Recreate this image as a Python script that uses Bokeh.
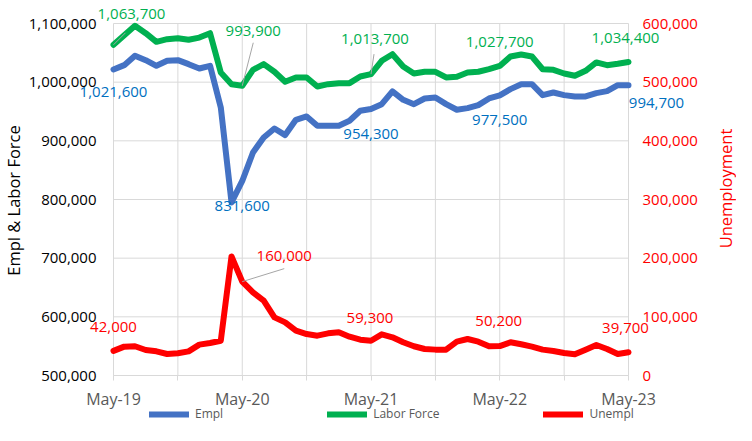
import math
from bokeh.plotting import figure
from bokeh.models import (Range1d, LinearAxis, FixedTicker, LabelSet, Label,
                          NumeralTickFormatter, Legend, LegendItem, ColumnDataSource)
from bokeh.core.properties import value
from bokeh.embed import file_html
from bokeh.resources import INLINE

# ---------------- data (monthly, May-19 .. May-23) ----------------
months = list(range(49))
tick_idx = [0, 12, 24, 36, 48]
minor_idx = [6, 18, 30, 42]
tick_labels = ["May-19", "May-20", "May-21", "May-22", "May-23"]
left_ticks = [500000, 600000, 700000, 800000, 900000, 1000000, 1100000]
right_ticks = [0, 100000, 200000, 300000, 400000, 500000, 600000]

empl = [1021600, 1029000, 1045000, 1037500, 1027900, 1036400, 1037500, 1030700, 1023300, 1027900,
        956900, 795000, 831600, 880200, 905800, 921100, 909800, 935900, 941600, 925700,
        925700, 925700, 934200, 951200, 954300, 962500, 984200, 970000, 962500, 972200,
        973900, 962500, 953000, 955700, 960800, 972200, 977500, 988100, 996600, 996600,
        977900, 982400, 977900, 975600, 975600, 981300, 984700, 994900, 994700]

labor_force = [1063700, 1080000, 1096000, 1083500, 1068800, 1073300, 1075000, 1072200, 1076000, 1083500,
               1016500, 996600, 993900, 1021000, 1030700, 1017700, 1000600, 1008000, 1008000, 992700,
               996600, 998300, 998300, 1009700, 1013700, 1036400, 1047700, 1026700, 1014800, 1017700,
               1017700, 1008000, 1009200, 1016500, 1017700, 1022100, 1027700, 1043800, 1047200, 1043800,
               1022100, 1021000, 1014800, 1010900, 1019400, 1033600, 1029000, 1031300, 1034400]

unempl = [42000, 49200, 49800, 43400, 41200, 36600, 37800, 41200, 52600, 55400,
          59300, 203000, 160000, 141700, 127600, 99100, 90600, 76500, 70700, 67900,
          71900, 73600, 66200, 61100, 59300, 70200, 65100, 56600, 49800, 45200,
          44100, 44100, 57700, 62200, 57700, 49800, 50200, 56600, 53200, 49200,
          44100, 41800, 38300, 36100, 44100, 51900, 45200, 36600, 39700]

label_idx = [0, 12, 24, 36, 48]

# ---------------- styles / geometry ----------------
FONT = "Open Sans"
BLUE, BLUE_TXT = "#4472C4", "#0070C0"
GREEN = "#00B050"
RED = "#FF0000"
GRID = "#D9D9D9"
LEADER = "#A6A6A6"

FRAME_W, FRAME_H = 736, 423        # whole canvas is the frame; axes drawn at fixed locations
PLOT_W, PLOT_H = 515, 352          # visible plot area (May-19..May-23, 500k..1.1M)
PLOT_L, PLOT_T = 113, 23           # where that area sits inside the canvas
PLOT_R_PAD = FRAME_W - PLOT_L - PLOT_W
PLOT_B_PAD = FRAME_H - PLOT_T - PLOT_H
ux = 48 / PLOT_W
uy = 600000 / PLOT_H
x_lo, x_hi = 0, 48
yl_lo, yl_hi = 500000, 1100000
yr_lo, yr_hi = 0, 600000

p = figure(frame_width=FRAME_W, frame_height=FRAME_H,
           x_range=Range1d(x_lo - PLOT_L * ux, x_hi + PLOT_R_PAD * ux),
           y_range=Range1d(yl_lo - PLOT_B_PAD * uy, yl_hi + PLOT_T * uy),
           output_backend="svg", toolbar_location=None, title=None,
           min_border_left=0, min_border_right=0, min_border_top=0, min_border_bottom=0)
p.extra_y_ranges = {"right": Range1d(yr_lo - PLOT_B_PAD * uy, yr_hi + PLOT_T * uy)}
p.outline_line_color = None
p.background_fill_color = "white"
p.xgrid.visible = False
p.ygrid.visible = False

# grid lines limited to the plot area, at the tick positions
vx = sorted(tick_idx + minor_idx)
p.segment(x0=vx, y0=[yl_lo] * len(vx), x1=vx, y1=[yl_hi] * len(vx),
          line_color=GRID, line_width=1, level="underlay")
p.segment(x0=[x_lo] * len(left_ticks), y0=left_ticks, x1=[x_hi] * len(left_ticks), y1=left_ticks,
          line_color=GRID, line_width=1, level="underlay")

# x axis (drawn at 500,000)
xax = p.xaxis[0]
xax.fixed_location = yl_lo
xax.bounds = (x_lo, x_hi)
xax.ticker = FixedTicker(ticks=tick_idx, minor_ticks=minor_idx)
xax.major_label_overrides = {i: t for i, t in zip(tick_idx, tick_labels)}
xax.axis_line_color = GRID
xax.major_tick_line_color = GRID
xax.minor_tick_line_color = GRID
xax.major_tick_in = 0
xax.major_tick_out = 5
xax.minor_tick_in = 0
xax.minor_tick_out = 5
xax.major_label_text_font = FONT
xax.major_label_text_font_size = "16px"
xax.major_label_text_color = "#595959"
xax.major_label_standoff = 7

# left axis (drawn at May-19)
yax = p.yaxis[0]
yax.fixed_location = x_lo
yax.bounds = (yl_lo, yl_hi)
yax.ticker = FixedTicker(ticks=left_ticks)
yax.formatter = NumeralTickFormatter(format="0,0")
yax.axis_line_color = None
yax.major_tick_line_color = None
yax.minor_tick_line_color = None
yax.major_tick_in = 0
yax.major_tick_out = 0
yax.minor_tick_out = 0
yax.major_label_text_font = FONT
yax.major_label_text_font_size = "15px"
yax.major_label_text_color = "black"
yax.major_label_standoff = 17

# right axis (drawn at May-23)
rax = LinearAxis(y_range_name="right", ticker=FixedTicker(ticks=right_ticks),
                 formatter=NumeralTickFormatter(format="0,0"), bounds=(yr_lo, yr_hi),
                 fixed_location=x_hi)
rax.axis_line_color = None
rax.major_tick_line_color = None
rax.minor_tick_line_color = None
rax.major_tick_in = 0
rax.major_tick_out = 0
rax.minor_tick_out = 0
rax.major_label_text_font = FONT
rax.major_label_text_font_size = "15px"
rax.major_label_text_color = RED
rax.major_label_standoff = 14
p.add_layout(rax, "right")

# axis titles
p.add_layout(Label(x=x_lo - 100 * ux, y=yl_hi - 177 * uy, text="Empl & Labor Force",
                   angle=math.pi / 2, text_align="center", text_baseline="middle",
                   text_color="black", text_font=FONT, text_font_size="16.5px"))
p.add_layout(Label(x=x_hi + 97 * ux, y=yl_hi - 165 * uy, text="Unemployment",
                   angle=math.pi / 2, text_align="center", text_baseline="middle",
                   text_color=RED, text_font=FONT, text_font_size="16.5px"))

# lines
r_e = p.line(months, empl, line_color=BLUE, line_width=6, line_join="round", line_cap="round")
r_l = p.line(months, labor_force, line_color=GREEN, line_width=6, line_join="round", line_cap="round")
r_u = p.line(months, unempl, line_color=RED, line_width=6, line_join="round", line_cap="round",
             y_range_name="right")

# data labels (offsets in screen px; +x right, +y down as listed)
def add_labels(series, color, offs, yr="default", leaders=None):
    xs = label_idx
    ys = [series[i] for i in xs]
    src = ColumnDataSource(dict(x=xs, y=ys, t=[f"{v:,}" for v in ys],
                                dx=[o[0] for o in offs], dy=[-o[1] for o in offs]))
    p.add_layout(LabelSet(x="x", y="y", text="t", x_offset="dx", y_offset="dy", source=src,
                          text_color=color, text_font=value(FONT), text_font_size="15px",
                          text_align="center", text_baseline="middle", y_range_name=yr))
    if leaders:
        x0, y0, x1, y1 = [], [], [], []
        for i, (ldx, ldy) in leaders.items():
            x0.append(i); y0.append(series[i])
            x1.append(i + ldx * ux); y1.append(series[i] - ldy * uy)
        p.segment(x0=x0, y0=y0, x1=x1, y1=y1, line_color=LEADER, line_width=1, y_range_name=yr)

add_labels(empl, BLUE_TXT, [(0, 23), (0, 25), (0, 25), (0, 25), (28, 18)])
add_labels(labor_force, GREEN, [(18, -31), (11, -55), (4, -35), (0, -24), (-3, -24)],
           leaders={0: (12, -12), 12: (11, -43), 24: (3, -20)})
add_labels(unempl, RED, [(0, -24), (42, -26), (-1, -23), (-1, -25), (-3, -24)], yr="right",
           leaders={12: (42, -13)})

legend = Legend(items=[LegendItem(label="Empl", renderers=[r_e]),
                       LegendItem(label="Labor Force", renderers=[r_l]),
                       LegendItem(label="Unempl", renderers=[r_u])],
                orientation="horizontal", location=(PLOT_L + 36, 1), spacing=104,
                glyph_width=40, glyph_height=12, label_height=12, label_standoff=6,
                label_text_font=FONT, label_text_font_size="12px", label_text_color="#595959",
                border_line_color=None, background_fill_alpha=0, padding=0, margin=0)
p.add_layout(legend, "center")

open("out.html", "w").write(file_html(p, INLINE))
